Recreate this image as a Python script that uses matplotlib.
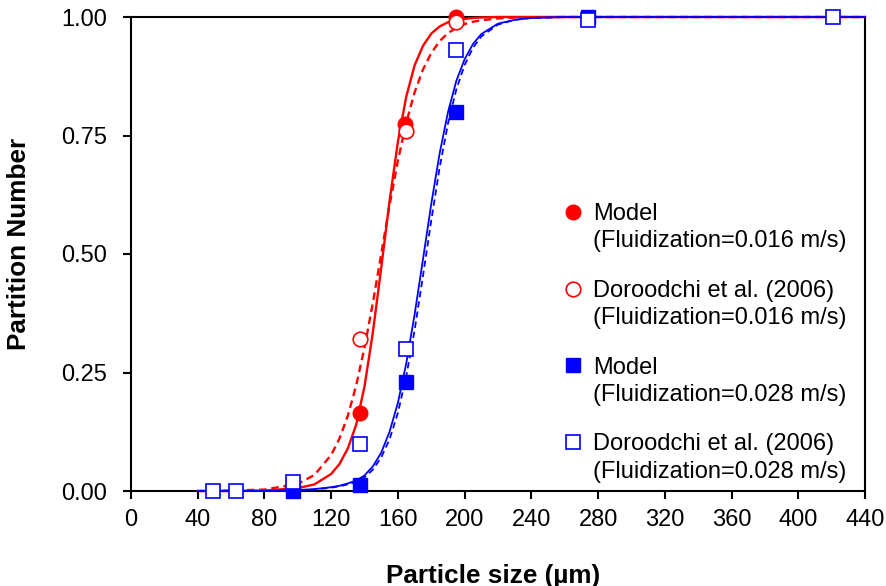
import numpy as np
import matplotlib
matplotlib.use("Agg")
import matplotlib.pyplot as plt
from matplotlib.legend_handler import HandlerLine2D
from matplotlib.lines import Line2D

plt.rcParams['font.family'] = ['Liberation Sans', 'DejaVu Sans']

# model curves
x_curve = [40, 60, 80, 100, 110, 120, 125, 130, 135, 140, 145, 150, 155, 160,
           165, 170, 175, 180, 185, 190, 195, 200, 205, 210, 220, 230, 240,
           260, 280, 320, 440]
red_solid = [0.000, 0.000, 0.001, 0.006, 0.014, 0.036, 0.057, 0.090, 0.140,
             0.221, 0.335, 0.471, 0.612, 0.737, 0.832, 0.898, 0.939, 0.965,
             0.980, 0.989, 0.993, 0.996, 0.998, 0.999, 1.000, 1.000, 1.000,
             1.000, 1.000, 1.000, 1.000]
red_dash = [0.000, 0.001, 0.003, 0.015, 0.034, 0.076, 0.111, 0.159, 0.223,
            0.303, 0.397, 0.500, 0.603, 0.697, 0.777, 0.841, 0.889, 0.924,
            0.949, 0.966, 0.977, 0.985, 0.990, 0.993, 0.997, 0.999, 0.999,
            1.000, 1.000, 1.000, 1.000]
blue_solid = [0.000, 0.000, 0.000, 0.002, 0.004, 0.008, 0.011, 0.016, 0.022,
              0.033, 0.052, 0.081, 0.125, 0.186, 0.269, 0.372, 0.488, 0.606,
              0.712, 0.799, 0.865, 0.911, 0.943, 0.964, 0.986, 0.994, 0.998,
              1.000, 1.000, 1.000, 1.000]
blue_dash = [0.000, 0.000, 0.000, 0.002, 0.003, 0.007, 0.010, 0.014, 0.019,
             0.029, 0.045, 0.071, 0.109, 0.165, 0.242, 0.339, 0.453, 0.571,
             0.682, 0.775, 0.847, 0.899, 0.935, 0.959, 0.984, 0.994, 0.998,
             1.000, 1.000, 1.000, 1.000]

# point data
red_model_x = [137, 164, 195]
red_model_y = [0.165, 0.775, 1.0]
red_exp_x = [137, 165, 195]
red_exp_y = [0.32, 0.76, 0.99]
blue_model_x = [97, 137, 165, 195, 274]
blue_model_y = [0.0, 0.013, 0.23, 0.80, 1.0]
blue_exp_x = [49, 63, 97, 137, 165, 195, 274, 421]
blue_exp_y = [0.0, 0.0, 0.02, 0.10, 0.30, 0.93, 0.994, 1.0]

labels = ["Model\n(Fluidization=0.016 m/s)",
          "Doroodchi et al. (2006)\n(Fluidization=0.016 m/s)",
          "Model\n(Fluidization=0.028 m/s)",
          "Doroodchi et al. (2006)\n(Fluidization=0.028 m/s)"]

RED = '#FF0000'
BLUE = '#0000FF'
FS = 17
LFS = 18.8


class FirstLineHandler(HandlerLine2D):
    # put the legend marker next to the first line of the label
    def create_artists(self, legend, orig_handle, xdescent, ydescent, width,
                       height, fontsize, trans):
        arts = super().create_artists(legend, orig_handle, xdescent, ydescent,
                                      width, height, fontsize, trans)
        for a in arts:
            a.set_ydata(np.asarray(a.get_ydata()) + 0.68 * fontsize)
        return arts


fig = plt.figure(figsize=(8.87, 5.86), dpi=100)
ax = fig.add_axes([131 / 887, 95 / 586, 734 / 887, 474 / 586])

ax.plot(x_curve, red_solid, color=RED, lw=1.7, zorder=3, clip_on=False)
ax.plot(x_curve, red_dash, color=RED, lw=1.7, dashes=(3.2, 2.0), zorder=3,
        clip_on=False)
ax.plot(x_curve, blue_solid, color=BLUE, lw=1.3, zorder=3, clip_on=False)
ax.plot(x_curve, blue_dash, color=BLUE, lw=1.3, dashes=(3.5, 2.2), zorder=3,
        clip_on=False)

ms = 10.5
h1, = ax.plot(red_model_x, red_model_y, 'o', ms=ms, mfc=RED, mec=RED,
              zorder=4, clip_on=False)
h2, = ax.plot(red_exp_x, red_exp_y, 'o', ms=ms, mfc='white', mec=RED,
              mew=1.2, zorder=4, clip_on=False)
h3, = ax.plot(blue_model_x, blue_model_y, 's', ms=ms, mfc=BLUE, mec=BLUE,
              zorder=4, clip_on=False)
h4, = ax.plot(blue_exp_x, blue_exp_y, 's', ms=ms, mfc='white', mec=BLUE,
              mew=1.2, zorder=4, clip_on=False)

ax.set_xlim(0, 440)
ax.set_ylim(0, 1)
ax.set_xticks(np.arange(0, 441, 40))
ax.set_yticks([0, 0.25, 0.5, 0.75, 1.0])
ax.set_yticklabels(['0.00', '0.25', '0.50', '0.75', '1.00'])

for sp in ax.spines.values():
    sp.set_linewidth(1.5)
ax.tick_params(axis='both', direction='out', length=6, width=1.5,
               labelsize=FS)
ax.tick_params(axis='x', pad=7)
ax.tick_params(axis='y', pad=11)

ax.set_xlabel('Particle size (µm)', fontsize=LFS, fontweight='bold')
ax.set_ylabel('Partition Number', fontsize=LFS, fontweight='bold')
ax.xaxis.set_label_coords(0.493, -0.153)
ax.yaxis.set_label_coords(-0.136, 0.521)

leg = ax.legend([h1, h2, h3, h4], labels, loc='upper left',
                bbox_to_anchor=(0.589, 0.607), frameon=False, fontsize=FS,
                borderpad=0, borderaxespad=0, handlelength=0.8,
                handletextpad=0.45, labelspacing=1.17,
                handler_map={Line2D: FirstLineHandler()})
for t in leg.get_texts():
    t.set_linespacing(1.3)

fig.savefig('out.png', dpi=100)
